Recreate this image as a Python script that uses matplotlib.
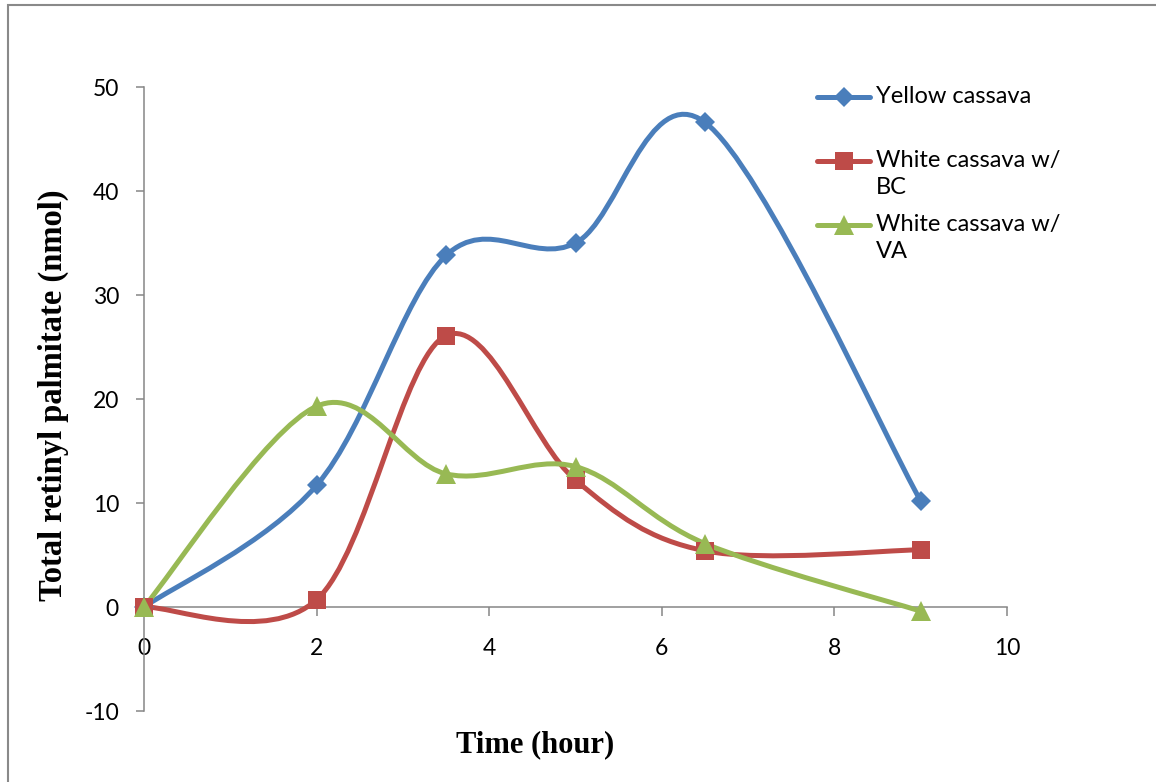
# -*- coding: utf-8 -*-
# Retinyl palmitate over time, Excel-like smoothed line chart

import matplotlib
matplotlib.use("Agg")
import matplotlib.pyplot as plt
from matplotlib.path import Path
from matplotlib.patches import PathPatch, Rectangle
from matplotlib.lines import Line2D

plt.rcParams["axes.unicode_minus"] = False

# =========================
# DATOS
# =========================
horas = [0, 2, 3.5, 5, 6.5, 9]
yellow_cassava = [0, 11.7, 33.8, 35.0, 46.6, 10.2]
white_bc = [0, 0.7, 26.1, 12.2, 5.4, 5.5]
white_va = [0, 19.3, 12.8, 13.5, 6.1, -0.4]

series_labels = ["Yellow cassava", "White cassava w/\nBC", "White cassava w/\nVA"]
x_ticks = [0, 2, 4, 6, 8, 10]
y_ticks = [-10, 0, 10, 20, 30, 40, 50]

colores = ["#4A7EBB", "#BE4B48", "#98B954"]
marcadores = ["D", "s", "^"]
tam_marcador = [10, 13, 14]


def curva_suave(xs, ys):
    """Path tipo Excel (Catmull-Rom convertido a Bezier) en coordenadas de datos."""
    pts = list(zip(xs, ys))
    n = len(pts)
    verts = [pts[0]]
    codes = [Path.MOVETO]
    for i in range(n - 1):
        p0 = pts[i - 1] if i > 0 else pts[i]
        p1 = pts[i]
        p2 = pts[i + 1]
        p3 = pts[i + 2] if i + 2 < n else pts[i + 1]
        c1 = (p1[0] + (p2[0] - p0[0]) / 6, p1[1] + (p2[1] - p0[1]) / 6)
        c2 = (p2[0] - (p3[0] - p1[0]) / 6, p2[1] - (p3[1] - p1[1]) / 6)
        verts += [c1, c2, p2]
        codes += [Path.CURVE4] * 3
    return Path(verts, codes)


# =========================
# FIGURA
# =========================
W, H = 1156, 782
fig = plt.figure(figsize=(W / 100, H / 100), dpi=100)
ax = fig.add_axes([144 / W, 1 - 711 / H, (1007 - 144) / W, (711 - 87) / H])

gris = "#868686"
fuente_ticks = "Lato"

for ys, col, mk, ms in zip([yellow_cassava, white_bc, white_va], colores, marcadores, tam_marcador):
    patch = PathPatch(curva_suave(horas, ys), facecolor="none", edgecolor=col,
                      linewidth=3.6, capstyle="round", joinstyle="round", clip_on=False, zorder=3)
    ax.add_patch(patch)
    ax.plot(horas, ys, linestyle="none", marker=mk, markersize=ms, color=col,
            markeredgewidth=0, clip_on=False, zorder=4)

ax.set_xlim(0, 10)
ax.set_ylim(-10, 50)
ax.set_xticks(x_ticks)
ax.set_yticks(y_ticks)

for s in ["top", "right"]:
    ax.spines[s].set_visible(False)
ax.spines["bottom"].set_position(("data", 0))
for s in ["left", "bottom"]:
    ax.spines[s].set_color(gris)
    ax.spines[s].set_linewidth(1.1)

ax.tick_params(axis="x", direction="out", length=6.5, width=1.1, color=gris, pad=16,
               labelsize=16.5, labelcolor="black")
ax.tick_params(axis="y", direction="out", length=6, width=1.1, color=gris, pad=12,
               labelsize=16.5, labelcolor="black")
for lab in ax.get_xticklabels() + ax.get_yticklabels():
    lab.set_fontfamily(fuente_ticks)

# Etiquetas de ejes
fig.text(535 / W, 1 - 745 / H, "Time (hour)", ha="center", va="center",
         fontsize=22, fontweight="bold", family="Liberation Serif")
fig.text(53 / W, 1 - 395 / H, "Total retinyl palmitate (nmol)", ha="center", va="center",
         rotation=90, fontsize=23.5, fontweight="bold", family="Liberation Serif")

# Leyenda manual (alineada con la primera línea de cada etiqueta, como Excel)
y_leyenda = [97, 161, 225]
for lab, col, mk, ms, yl in zip(series_labels, colores, marcadores, tam_marcador, y_leyenda):
    yf = 1 - yl / H
    fig.add_artist(Line2D([817 / W, 870 / W], [yf, yf], color=col, linewidth=3.6,
                          solid_capstyle="round"))
    fig.add_artist(Line2D([843.5 / W], [yf], marker=mk, markersize=ms, color=col,
                          markeredgewidth=0))
    fig.text(876 / W, 1 - (yl - 11) / H, lab, ha="left", va="top", fontsize=17,
             family=fuente_ticks, linespacing=1.33)

# Marco exterior del gráfico
fig.add_artist(Rectangle((8 / W, -0.1), 1.2, 1.1 - 5 / H, transform=fig.transFigure,
                         facecolor="none", edgecolor="#898989", linewidth=1.5))

fig.savefig("out.png", dpi=100)
